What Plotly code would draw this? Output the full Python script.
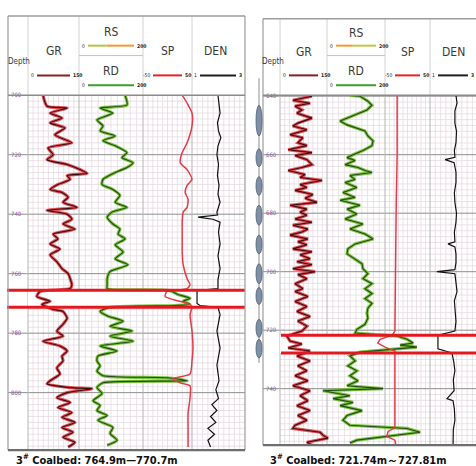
import plotly.graph_objects as go

W, H = 476, 466


def X(p):
    return p / W


def Y(p):
    return 1 - p / H


# ---------------- Left well (coalbed 764.9-770.7 m) ----------------
L_GR_DEPTH = [700.0, 703.7, 704.3, 706.0, 707.7, 709.3, 711.0, 713.3, 716.0, 717.7, 720.0, 721.7, 723.3, 725.0,
              726.3, 727.0, 728.3, 730.0, 731.7, 732.7, 734.3, 736.0, 737.7, 738.7, 740.0, 741.7, 743.3, 745.0,
              746.7, 748.3, 750.0, 751.7, 753.7, 756.0, 758.3, 760.0, 761.7, 763.7, 765.0, 766.0, 767.7, 769.3,
              770.3, 772.0, 772.7, 775.0, 777.0, 779.3, 781.0, 782.7, 784.3, 786.0, 787.7, 789.3, 791.7, 793.7,
              796.0, 797.0, 798.3, 798.7, 800.0, 801.7, 803.3, 805.0, 806.7, 808.3, 810.0, 811.7, 813.3, 815.0,
              816.7, 818.3]
L_GR = [44, 56, 115, 65, 100, 65, 109, 79, 129, 59, 74, 56, 115, 153, 174, 115, 124, 88, 65, 100, 118, 103, 144, 56,
        115, 129, 103, 138, 74, 88, 65, 94, 65, 85, 100, 118, 124, 129, 124, 35, 26, 65, 41, 74, 103, 115, 103, 85,
        103, 44, 94, 115, 100, 103, 85, 94, 65, 56, 124, 188, 115, 85, 124, 88, 129, 100, 138, 100, 132, 103, 138, 118]

L_RD_DEPTH = [700.0, 703.3, 704.3, 706.0, 708.3, 710.3, 712.0, 713.7, 715.3, 717.0, 719.3, 721.0, 722.7, 724.3,
              726.0, 728.3, 730.0, 731.7, 733.7, 736.0, 737.7, 739.3, 741.0, 743.3, 745.0, 746.7, 748.3, 750.3,
              752.7, 755.0, 757.0, 759.3, 761.7, 763.7, 765.0, 765.7, 767.0, 768.3, 769.3, 770.3, 770.7, 771.3,
              772.7, 774.3, 776.0, 777.7, 779.3, 781.0, 782.7, 784.3, 786.0, 787.7, 789.3, 791.0, 792.7, 794.3,
              795.0, 796.0, 796.7, 798.3, 800.3, 802.7, 804.3, 806.0, 807.7, 809.3, 811.7, 813.7, 816.0, 817.7]
L_RD = [144, 150, 66, 106, 56, 75, 66, 113, 75, 113, 150, 134, 169, 150, 113, 75, 72, 106, 128, 113, 150, 103, 88,
        106, 128, 122, 144, 113, 138, 113, 153, 97, 88, 88, 88, 284, 309, 347, 325, 347, 300, 97, 66, 91, 138, 97,
        166, 97, 169, 66, 119, 59, 56, 66, 56, 75, 275, 338, 75, 56, 72, 44, 66, 56, 88, 59, 106, 97, 119, 88]

L_SP_DEPTH = [700.0, 702.7, 706.0, 710.3, 716.0, 719.3, 722.7, 725.0, 728.3, 730.3, 732.7, 735.0, 737.7, 739.3,
              742.7, 746.0, 749.3, 752.7, 757.0, 761.7, 763.7, 765.0, 766.0, 767.7, 768.7, 770.0, 771.0, 773.7,
              779.3, 785.0, 789.3, 793.7, 795.3, 796.7, 797.7, 801.7, 807.0, 812.7, 818.3]
L_SP = [30, 40, 50, 50, 40, 30, 26, 40, 50, 40, 36, 42, 40, 32, 30, 30, 30, 30, 32, 40, 46, 40, -1, -5, 11, 40, 50,
        46, 50, 52, 50, 46, 11, 26, 46, 46, 42, 42, 42]

L_DEN_DEPTH = [700.0, 702.7, 706.0, 709.3, 712.0, 714.3, 717.0, 720.0, 723.3, 727.0, 730.3, 733.3, 736.0, 739.3,
               740.3, 741.0, 741.7, 742.7, 746.0, 750.0, 754.0, 758.3, 762.0, 765.0, 765.7, 770.0, 770.7, 771.3,
               773.7, 779.3, 785.0, 790.7, 796.0, 799.0, 802.0, 804.0, 806.0, 808.0, 810.0, 812.0, 814.0, 816.0,
               818.3]
L_DEN = [1.98, 2.02, 2.06, 1.96, 2.00, 2.09, 1.98, 1.94, 2.00, 1.96, 2.02, 1.98, 2.06, 1.94, 1.96, 1.23, 1.79, 2.06,
         2.00, 2.06, 1.98, 2.06, 1.98, 1.98, 1.19, 1.19, 1.30, 1.98, 2.06, 1.94, 2.06, 1.94, 2.02, 1.90, 2.00, 1.75,
         1.94, 1.70, 1.90, 1.60, 1.85, 1.60, 1.70]

L_COAL = [765.6, 771.3]
L_DEPTH_TICKS = [700, 720, 740, 760, 780, 800]

# ---------------- Right well (coalbed 721.74-727.81 m) ----------------
R_GR_DEPTH = [640.0, 641.4, 642.4, 643.4, 644.7, 645.8, 647.5, 649.2, 650.2, 651.5,
              653.2, 654.2, 655.9, 656.9, 658.3, 659.3, 660.3, 661.7, 663.4, 664.4,
              665.4, 666.8, 667.8, 668.8, 670.2, 671.2, 672.2, 673.6, 674.9, 676.3,
              677.3, 678.6, 679.7, 680.7, 682.0, 683.1, 684.1, 685.4, 686.4, 687.5,
              688.8, 689.8, 690.8, 692.2, 693.2, 694.2, 695.6, 696.6, 697.6, 699.0,
              700.0, 701.0, 702.4, 704.1, 705.8, 706.8, 708.5, 710.2, 711.9, 713.6,
              715.3, 716.9, 718.6, 720.3, 722.0, 723.7, 724.7, 726.1, 727.1, 728.8,
              730.5, 732.2, 733.9, 735.6, 737.3, 739.0, 740.7, 742.4, 744.1, 745.8,
              747.5, 749.2, 750.8, 752.5, 753.6, 754.9, 755.9, 756.9, 758.3, 759.3]
R_GR = [102, 41, 96, 48, 70, 54, 102, 57, 41, 86,
        32, 73, 57, 86, 26, 102, 48, 86, 102, 70,
        26, 80, 64, 134, 64, 86, 48, 105, 80, 118,
        32, 86, 64, 86, 48, 102, 41, 89, 70, 32,
        89, 57, 86, 41, 102, 64, 96, 54, 102, 41,
        112, 57, 86, 48, 73, 48, 89, 48, 86, 54,
        96, 57, 86, 70, 22, 32, 70, 26, 96, 54,
        96, 57, 86, 48, 89, 41, 96, 64, 89, 54,
        96, 57, 86, 48, 41, 128, 137, 153, 86, 102]

R_RD_DEPTH = [639.7, 640.0, 641.7, 643.1, 644.7, 646.8, 648.5, 649.8, 650.8, 651.9,
              653.6, 655.3, 656.9, 658.6, 660.0, 661.0, 662.0, 663.4, 664.4, 665.4,
              666.1, 667.1, 668.5, 669.5, 671.2, 672.9, 674.6, 675.6, 677.3, 678.6,
              680.3, 682.0, 683.7, 685.4, 687.1, 688.8, 690.5, 692.2, 693.9, 695.6,
              697.3, 699.0, 700.7, 702.4, 704.1, 705.8, 707.5, 709.2, 710.8, 712.5,
              714.2, 715.9, 718.0, 719.7, 721.0, 722.0, 723.1, 724.4, 725.1, 725.8,
              726.4, 727.5, 728.8, 730.5, 732.2, 733.9, 735.6, 737.3, 739.0, 740.0,
              740.7, 742.4, 743.4, 744.7, 745.8, 747.5, 749.2, 750.8, 752.5, 753.6,
              754.9, 755.9, 757.6, 758.6]
R_RD = [79, 114, 141, 155, 138, 90, 45, 69, 97, 131,
        141, 159, 155, 124, 90, 69, 97, 62, 107, 131,
        155, 79, 97, 62, 103, 55, 97, 45, 114, 69,
        103, 62, 124, 79, 131, 159, 97, 72, 69, 97,
        121, 124, 141, 124, 155, 131, 155, 131, 155, 141,
        138, 141, 131, 103, 97, 241, 276, 297, 252, 310,
        241, 114, 79, 97, 72, 103, 79, 107, 69, 193,
        -14, 79, 21, 90, 45, 121, 69, 55, 79, 276,
        321, 241, 103, 79]

R_SP_DEPTH = [639.7, 660.0, 676.3, 693.2, 710.2, 720.3, 721.7, 723.1, 724.4, 725.8, 727.1, 737.3, 753.3, 754.6,
              756.3, 757.6, 759.3]
R_SP = [-23, -23, -25, -26, -26, -28, -34, -61, -66, -50, -28, -28, -28, -43, -46, -28, -26]

R_DEN_DEPTH = [639.7, 642.4, 645.0, 649.2, 652.0, 655.9, 658.5, 660.9, 661.7, 662.7, 666.0, 669.5, 673.0, 676.3,
               680.0, 683.1, 686.5, 689.8, 690.5, 691.5, 694.0, 696.9, 699.3, 700.0, 700.7, 703.5, 706.8, 710.0,
               713.6, 717.0, 720.3, 721.7, 726.4, 727.8, 731.0, 733.9, 737.0, 740.7, 743.4, 744.1, 747.0, 750.8,
               754.0, 757.6, 759.3]
R_DEN = [1.98, 2.02, 1.94, 1.94, 2.00, 1.98, 1.92, 1.94, 1.57, 1.91, 1.98, 1.98, 1.92, 1.94, 2.00, 1.98, 1.92, 1.94,
         1.68, 1.94, 1.98, 1.98, 1.94, 1.26, 1.94, 1.98, 2.02, 1.92, 1.94, 1.98, 1.94, 1.30, 1.30, 1.83, 1.90, 1.94,
         1.88, 1.91, 1.64, 1.87, 1.92, 1.94, 1.88, 1.87, 1.87]

R_COAL = [721.74, 727.81]
R_DEPTH_TICKS = [640, 660, 680, 700, 720, 740]
R_CORE_TOP = [643.1, 658.0, 667.5, 677.3, 687.5, 697.3, 705.4, 716.3, 723.1]
R_CORE_BOT = [653.6, 664.1, 673.9, 684.1, 693.9, 704.1, 711.2, 722.4, 729.5]

CAPTIONS = ["3<sup>#</sup> Coalbed: 764.9m\u2014770.7m", "3<sup>#</sup> Coalbed: 721.74m\uff5e727.81m"]

# curve scales (track left -> right)
SCALES = {"GR": (0, 150), "RD": (0, 200), "SP": (-50, 50), "DEN": (1, 3)}
SCALE_TXT = {"GR": ("0", "150"), "RS": ("0", "200"), "RD": ("0", "200"), "SP": ("-50", "50"), "DEN": ("1", "3")}

# ---------------- layout geometry (pixels) ----------------
PANELS = {
    "L": dict(x0=8, x1=245, ht=12, dt=92, db=450, edges=[8, 28, 79, 143, 192, 245],
              depth=(700.0, 819.33), y="y", yname="yaxis", ax0=1, smooth=True),
    "R": dict(x0=263, x1=476, ht=15, dt=92, db=445, edges=[263, 280, 327, 385, 430, 483],
              depth=(639.66, 759.32), y="y2", yname="yaxis2", ax0=5, smooth=False),
}

FONT = "Liberation Sans Narrow, DejaVu Sans Condensed, Arial Narrow, sans-serif"
GRID_MINOR = "#e3d6de"
GRID_MAJOR = "#8e8e8e"
TRACK_LINE = "#b4b4b4"
RED = "#e3191f"

fig = go.Figure()
layout = {}
shapes = []
annotations = []


def hline(y, xa, xb, color, width, yref="paper", layer="below"):
    yy = Y(y) if yref == "paper" else y
    shapes.append(dict(type="line", xref="paper", yref=yref, x0=X(xa), x1=X(xb), y0=yy, y1=yy,
                       line=dict(color=color, width=width), layer=layer))


def vline(x, ya, yb, color, width, layer="below"):
    shapes.append(dict(type="line", xref="paper", yref="paper", x0=X(x), x1=X(x), y0=Y(ya), y1=Y(yb),
                       line=dict(color=color, width=width), layer=layer))


def text(x, y, s, size, color="#3a3a3a", anchor="center", bold=False, family=FONT):
    annotations.append(dict(x=X(x), y=Y(y), xref="paper", yref="paper", text=("<b>%s</b>" % s) if bold else s,
                            showarrow=False, xanchor=anchor, yanchor="middle",
                            font=dict(size=size, color=color, family=family)))


curves = {
    "L": [("GR", L_GR_DEPTH, L_GR), ("RD", L_RD_DEPTH, L_RD), ("SP", L_SP_DEPTH, L_SP), ("DEN", L_DEN_DEPTH, L_DEN)],
    "R": [("GR", R_GR_DEPTH, R_GR), ("RD", R_RD_DEPTH, R_RD), ("SP", R_SP_DEPTH, R_SP), ("DEN", R_DEN_DEPTH, R_DEN)],
}
coal = {"L": L_COAL, "R": R_COAL}
ticks = {"L": L_DEPTH_TICKS, "R": R_DEPTH_TICKS}

for key, p in PANELS.items():
    e = p["edges"]
    top_d, bot_d = p["depth"]
    shp = dict(shape="spline", smoothing=0.6) if p["smooth"] else dict(shape="linear")
    layout[p["yname"]] = dict(domain=[Y(p["db"]), Y(p["dt"])], range=[bot_d, top_d],
                              anchor="x%d" % p["ax0"] if p["ax0"] > 1 else "x",
                              showgrid=False, zeroline=False, showline=False, ticks="",
                              tickvals=ticks[key], ticktext=[str(t) for t in ticks[key]],
                              ticklabelposition="inside", ticklabeloverflow="allow",
                              tickfont=dict(size=6, color="#8a5a9c", family=FONT), fixedrange=True)
    for i, (name, dep, val) in enumerate(curves[key]):
        idx = p["ax0"] + i
        tl, tr = e[i + 1], e[i + 2]
        lo, hi = SCALES[name]
        s = (hi - lo) / (tr - tl)
        rng = [lo - (tl - p["x0"]) * s, hi + (p["x1"] - tr) * s]
        axname = "xaxis" if idx == 1 else "xaxis%d" % idx
        layout[axname] = dict(domain=[X(p["x0"]), X(p["x1"])], range=rng, visible=False,
                              anchor=p["y"], fixedrange=True)
        xa = "x" if idx == 1 else "x%d" % idx
        if name == "GR":
            fig.add_trace(go.Scatter(x=val, y=dep, xaxis=xa, yaxis=p["y"], mode="lines",
                                     line=dict(color="rgba(222,50,60,0.85)", width=3.2, **shp), hoverinfo="skip"))
            fig.add_trace(go.Scatter(x=val, y=dep, xaxis=xa, yaxis=p["y"], mode="lines",
                                     line=dict(color="#3e0b0b", width=1.1, **shp), name="GR"))
        elif name == "RD":
            fig.add_trace(go.Scatter(x=val, y=dep, xaxis=xa, yaxis=p["y"], mode="lines",
                                     line=dict(color="rgba(110,190,45,0.9)", width=3.2, **shp), hoverinfo="skip"))
            fig.add_trace(go.Scatter(x=val, y=dep, xaxis=xa, yaxis=p["y"], mode="lines",
                                     line=dict(color="#234a14", width=1.1, **shp), name="RD"))
        elif name == "SP":
            fig.add_trace(go.Scatter(x=val, y=dep, xaxis=xa, yaxis=p["y"], mode="lines",
                                     line=dict(color="#e63a48", width=1.5, **shp), name="SP"))
        else:
            fig.add_trace(go.Scatter(x=val, y=dep, xaxis=xa, yaxis=p["y"], mode="lines",
                                     line=dict(color="#111111", width=1.2), name="DEN"))

    # ---- grid (decoration) ----
    xr = min(p["x1"], 476)
    for ti in range(1, 5):
        tl, tr = e[ti], e[ti + 1]
        for k in range(1, 10):
            xx = tl + (tr - tl) * k / 10
            if xx < xr:
                vline(xx, p["dt"], p["db"], GRID_MINOR, 0.7)
    d = int(top_d) + 1 if top_d != int(top_d) else int(top_d)
    while d <= bot_d:
        if d % 2 == 0 and d % 20 != 0:
            hline(d, e[1], xr, GRID_MINOR, 0.7, yref=p["y"])
        d += 1
    for t in ticks[key]:
        if top_d < t < bot_d:
            hline(t, p["x0"], xr, GRID_MAJOR, 1, yref=p["y"])
    for ti in range(1, 5):
        if e[ti] < xr:
            vline(e[ti], p["dt"], p["db"], TRACK_LINE, 1)
    shapes.append(dict(type="rect", xref="paper", yref=p["y"], x0=X(e[1]), x1=X(xr), y0=coal[key][0],
                       y1=coal[key][1], fillcolor="white", line=dict(width=0), layer="below"))
    ra = p["x0"] - 1 if key == "L" else e[1] + 1
    for c in coal[key]:
        hline(c, ra, xr, RED, 3, yref=p["y"], layer="above")

    # ---- frame / header ----
    hline(p["ht"], p["x0"], xr, "#9c9c9c", 1.5, layer="above")
    vline(p["x0"], p["ht"], p["db"], "#9c9c9c", 1.2, layer="above")
    if key == "L":
        vline(p["x1"], p["ht"], p["db"], "#9c9c9c", 1.2, layer="above")
    hline(p["dt"], p["x0"], xr, "#8a8a8a", 1.5, layer="above")
    hline(p["db"], p["x0"], xr, "#6e6e6e", 2.2, layer="above")
    for ti in range(1, 5):
        if e[ti] < xr:
            vline(e[ti], p["ht"], p["dt"], "#d2d2d2", 1)
    hline(52, e[2], e[3], "#c4c4c4", 1)

    ly = 47 if key == "L" else 48
    text((p["x0"] + e[1]) / 2 + 1, 58, "Depth", 8)
    specs = [("GR", e[1], e[2], ly, 72, ["#8b1e1e"]),
             ("RS", e[2], e[3], 28 if key == "L" else 29, 42,
              ["#b4c444", "#f0982c"] if key == "L" else ["#f0982c", "#c4c444"]),
             ("RD", e[2], e[3], 68, 82, ["#3a9e2a"]),
             ("SP", e[3], e[4], ly, 72, ["#e62222"]),
             ("DEN", e[4], e[4] + 53, ly, 72, ["#1e1e1e"])]
    for nm, a, b, ty, sy, cols in specs:
        cx = (a + b) / 2 if nm != "DEN" else a + 23
        text(cx, ty, nm, 12)
        if nm == "DEN":
            la, lb = a + 8, a + (44 if key == "L" else 38)
        elif nm == "SP":
            la, lb = a + 10, b - 10
        else:
            la, lb = a + 9, b - 9
        if len(cols) == 1:
            hline(sy, la, lb, cols[0], 2)
        else:
            mid = la + (lb - la) * 0.4
            hline(sy, la, mid, cols[0], 2)
            hline(sy, mid, lb, cols[1], 2)
        text(la - 1, sy, SCALE_TXT[nm][0], 5, color="#222", anchor="right")
        text(lb + 1, sy, SCALE_TXT[nm][1], 5, color="#222", anchor="left", bold=True)

# core / perforation column of the right well
vline(259, 75, 362, "#8a8f96", 1)
for a, b in zip(R_CORE_TOP, R_CORE_BOT):
    shapes.append(dict(type="circle", xref="paper", yref="y2", x0=X(256), x1=X(262), y0=a, y1=b,
                       fillcolor="#7d90a6", line=dict(color="#4f6075", width=0.8), layer="above"))

text(14, 459, CAPTIONS[0], 11, color="#111", anchor="left", bold=True)
text(268, 459, CAPTIONS[1], 11, color="#111", anchor="left", bold=True)

fig.update_layout(**layout)
fig.update_layout(width=W, height=H, margin=dict(l=0, r=0, t=0, b=0), showlegend=False,
                  paper_bgcolor="white", plot_bgcolor="rgba(0,0,0,0)", shapes=shapes, annotations=annotations)
fig.write_html("out.html", config={"displayModeBar": False, "staticPlot": True},
               post_script="document.body.style.margin='0px';document.body.style.overflow='hidden';")
